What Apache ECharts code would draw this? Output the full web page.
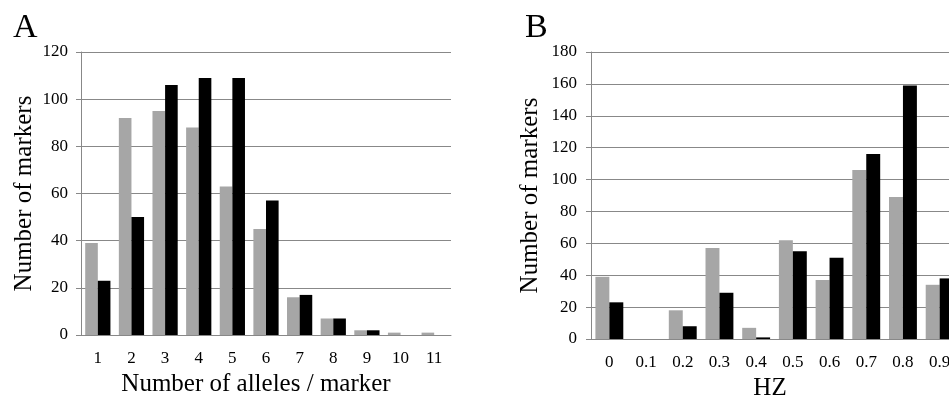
<!DOCTYPE html>
<html>
<head>
<meta charset="utf-8">
<script src="https://cdn.jsdelivr.net/npm/echarts@6/dist/echarts.min.js"></script>
<style>
  html, body { margin: 0; padding: 0; background: #fff; }
  #chart { width: 949px; height: 397px; }
</style>
</head>
<body>
<div id="chart"></div>
<script>
// panel A: number of alleles per marker
var allelesCats = ['1', '2', '3', '4', '5', '6', '7', '8', '9', '10', '11']
var allelesGray = [39, 92, 95, 88, 63, 45, 16, 7, 2, 1, 1]
var allelesBlack = [23, 50, 106, 109, 109, 57, 17, 7, 2, 0, 0]

// panel B: heterozygosity
var hzCats = ['0', '0.1', '0.2', '0.3', '0.4', '0.5', '0.6', '0.7', '0.8', '0.9']
var hzGray = [39, 0, 18, 57, 7, 62, 37, 106, 89, 34]
var hzBlack = [23, 0, 8, 29, 1, 55, 51, 116, 159, 38]

var FONT = '"Liberation Serif", "Times New Roman", serif'
var lineColor = '#888888'
var grayColor = '#a6a6a6'

function xAxisOf(idx, cats, name, gap, shift) {
  return {
    type: 'category',
    gridIndex: idx,
    data: cats,
    name: name,
    nameLocation: 'middle',
    nameGap: gap,
    // titles sit a little left of the plot centre in the original
    nameTextStyle: { fontFamily: FONT, fontSize: 25, color: '#000', padding: [0, shift, 0, 0] },
    axisLine: { show: true, lineStyle: { color: lineColor, width: 1 } },
    axisTick: { show: false },
    axisLabel: { fontFamily: FONT, fontSize: 17, color: '#000', margin: 15, interval: 0 },
  }
}

function yAxisOf(idx, max, gap, margin) {
  return {
    type: 'value',
    gridIndex: idx,
    min: 0,
    max: max,
    interval: 20,
    name: 'Number of markers',
    nameLocation: 'middle',
    nameGap: gap,
    nameRotate: 90,
    nameTextStyle: { fontFamily: FONT, fontSize: 25, color: '#000' },
    axisLine: { show: true, lineStyle: { color: lineColor, width: 1 } },
    axisTick: { show: true, length: 5, lineStyle: { color: lineColor } },
    axisLabel: { fontFamily: FONT, fontSize: 17, color: '#000', margin: margin },
    splitLine: { show: true, lineStyle: { color: lineColor, width: 1 } },
  }
}

var myChart = echarts.init(document.getElementById('chart'))
myChart.setOption({
  animation: false,
  backgroundColor: '#fff',
  grid: [
    { left: 81, top: 52, width: 370, height: 283, outerBoundsMode: 'none' },
    { left: 591, top: 52, width: 367, height: 287, outerBoundsMode: 'none' },
  ],
  graphic: [
    { type: 'text', left: 13, top: 11, style: { text: 'A', font: '34px ' + FONT, fill: '#000' } },
    { type: 'text', left: 525, top: 11, style: { text: 'B', font: '34px ' + FONT, fill: '#000' } },
  ],
  xAxis: [
    xAxisOf(0, allelesCats, 'Number of alleles / marker', 33, 20),
    xAxisOf(1, hzCats, 'HZ', 35, 9),
  ],
  yAxis: [
    yAxisOf(0, 120, 44, 13),
    yAxisOf(1, 180, 48, 14),
  ],
  series: [
    {
      type: 'bar', xAxisIndex: 0, yAxisIndex: 0, data: allelesGray,
      barGap: 0, barCategoryGap: '25%', itemStyle: { color: grayColor },
    },
    {
      type: 'bar', xAxisIndex: 0, yAxisIndex: 0, data: allelesBlack,
      barGap: 0, barCategoryGap: '25%', itemStyle: { color: '#000' },
    },
    {
      type: 'bar', xAxisIndex: 1, yAxisIndex: 1, data: hzGray,
      barGap: 0, barCategoryGap: '24%', itemStyle: { color: grayColor },
    },
    {
      type: 'bar', xAxisIndex: 1, yAxisIndex: 1, data: hzBlack,
      barGap: 0, barCategoryGap: '24%', itemStyle: { color: '#000' },
    },
  ],
})
</script>
</body>
</html>
